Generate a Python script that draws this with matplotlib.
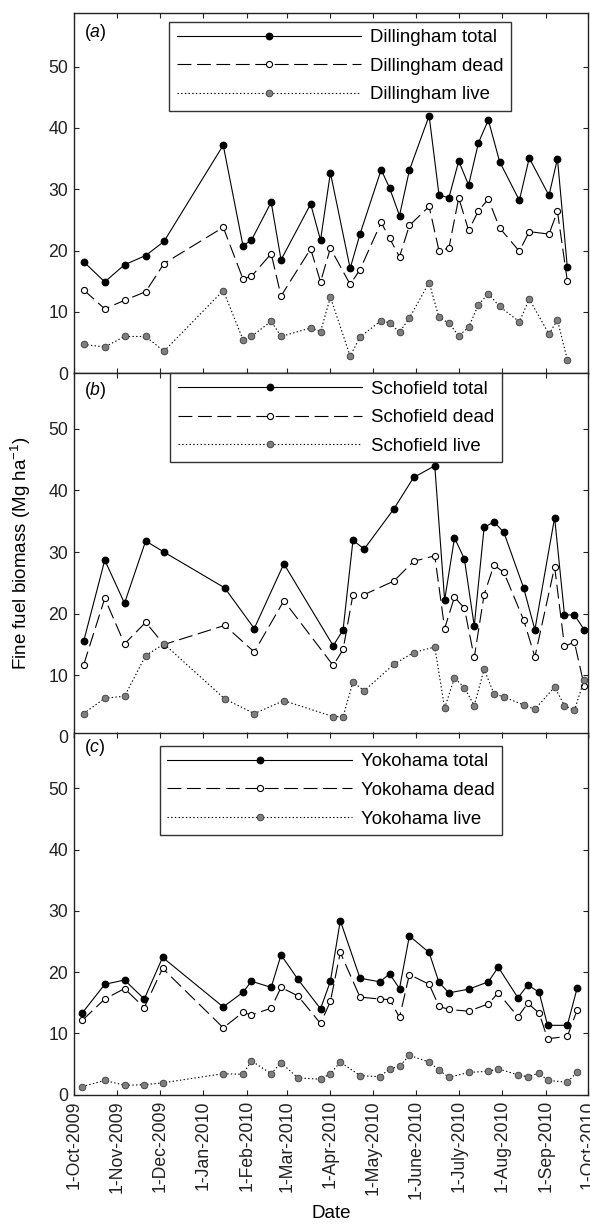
import numpy as np
import matplotlib
matplotlib.use('Agg')
import matplotlib.pyplot as plt

plt.rcParams['font.family'] = ['Liberation Sans', 'DejaVu Sans']
plt.rcParams['mathtext.fontset'] = 'custom'
plt.rcParams['mathtext.rm'] = 'Liberation Sans'
plt.rcParams['mathtext.it'] = 'Liberation Sans:italic'
plt.rcParams['lines.scale_dashes'] = False

# --- data ---
dil_dates = ['2009-10-08', '2009-10-23', '2009-11-06', '2009-11-21', '2009-12-04', '2010-01-15',
             '2010-01-29', '2010-02-04', '2010-02-18', '2010-02-25', '2010-03-18', '2010-03-25',
             '2010-04-01', '2010-04-15', '2010-04-22', '2010-05-07', '2010-05-13', '2010-05-20',
             '2010-05-27', '2010-06-10', '2010-06-17', '2010-06-24', '2010-07-01', '2010-07-08',
             '2010-07-15', '2010-07-22', '2010-07-30', '2010-08-13', '2010-08-20', '2010-09-03',
             '2010-09-09', '2010-09-16']
dil_total = [18.2, 14.9, 17.7, 19.2, 21.5, 37.2, 20.8, 21.7, 27.9, 18.5, 27.6, 21.7, 32.7, 17.1,
             22.7, 33.2, 30.2, 25.7, 33.1, 42.0, 29.1, 28.6, 34.6, 30.7, 37.6, 41.3, 34.5, 28.2,
             35.1, 29.0, 35.0, 17.3]
dil_dead = [13.6, 10.5, 11.9, 13.3, 17.9, 23.8, 15.4, 15.8, 19.5, 12.6, 20.3, 14.9, 20.4, 14.5,
            16.9, 24.6, 22.0, 19.0, 24.1, 27.2, 20.0, 20.4, 28.6, 23.3, 26.5, 28.4, 23.7, 19.9,
            23.1, 22.7, 26.4, 15.1]
dil_live = [4.7, 4.3, 6.0, 6.0, 3.6, 13.5, 5.5, 6.0, 8.5, 6.0, 7.4, 6.8, 12.4, 2.8, 5.9, 8.6,
            8.2, 6.7, 9.0, 14.8, 9.1, 8.2, 6.1, 7.5, 11.2, 13.0, 10.9, 8.4, 12.1, 6.4, 8.7, 2.2]

sch_dates = ['2009-10-08', '2009-10-23', '2009-11-06', '2009-11-21', '2009-12-04', '2010-01-16',
             '2010-02-06', '2010-02-27', '2010-04-03', '2010-04-10', '2010-04-17', '2010-04-25',
             '2010-05-16', '2010-05-30', '2010-06-14', '2010-06-21', '2010-06-28', '2010-07-05',
             '2010-07-12', '2010-07-19', '2010-07-26', '2010-08-02', '2010-08-16', '2010-08-24',
             '2010-09-07', '2010-09-14', '2010-09-21', '2010-09-28']
sch_total = [15.5, 28.7, 21.7, 31.8, 30.0, 24.2, 17.6, 28.1, 14.8, 17.4, 31.9, 30.5, 37.0, 42.1,
             44.0, 22.2, 32.3, 28.9, 18.0, 34.0, 34.9, 33.2, 24.2, 17.4, 35.6, 19.8, 19.8, 17.4]
sch_dead = [11.7, 22.5, 15.1, 18.6, 15.0, 18.1, 13.8, 22.1, 11.6, 14.2, 23.1, 23.1, 25.3, 28.5,
            29.4, 17.6, 22.7, 20.9, 12.9, 23.1, 27.9, 26.7, 19.0, 13.0, 27.6, 14.7, 15.4, 8.3]
sch_live = [3.8, 6.3, 6.6, 13.2, 15.1, 6.2, 3.8, 5.9, 3.3, 3.3, 8.9, 7.5, 11.8, 13.7, 14.6, 4.7,
            9.6, 8.0, 5.1, 11.0, 7.0, 6.5, 5.2, 4.5, 8.1, 5.1, 4.3, 9.3]

yok_dates = ['2009-10-07', '2009-10-23', '2009-11-06', '2009-11-20', '2009-12-03', '2010-01-15',
             '2010-01-29', '2010-02-04', '2010-02-18', '2010-02-25', '2010-03-09', '2010-03-25',
             '2010-04-01', '2010-04-08', '2010-04-22', '2010-05-06', '2010-05-13', '2010-05-20',
             '2010-05-27', '2010-06-10', '2010-06-17', '2010-06-24', '2010-07-08', '2010-07-22',
             '2010-07-29', '2010-08-12', '2010-08-19', '2010-08-27', '2010-09-02', '2010-09-16',
             '2010-09-23']
yok_total = [13.3, 18.0, 18.7, 15.6, 22.4, 14.3, 16.7, 18.5, 17.5, 22.8, 18.8, 14.0, 18.5, 28.4,
             19.0, 18.4, 19.7, 17.3, 25.9, 23.2, 18.3, 16.6, 17.2, 18.4, 20.8, 15.8, 17.9, 16.7,
             11.3, 11.3, 17.4]
yok_dead = [12.1, 15.6, 17.3, 14.2, 20.6, 10.9, 13.4, 13.0, 14.1, 17.5, 16.1, 11.6, 15.2, 23.2,
            15.9, 15.6, 15.5, 12.6, 19.6, 18.0, 14.4, 13.9, 13.6, 14.8, 16.6, 12.7, 14.9, 13.3,
            9.1, 9.5, 13.8]
yok_live = [1.3, 2.3, 1.5, 1.6, 1.9, 3.4, 3.3, 5.5, 3.4, 5.2, 2.7, 2.5, 3.4, 5.3, 3.1, 2.9, 4.2,
            4.6, 6.4, 5.3, 4.0, 2.8, 3.6, 3.8, 4.2, 3.2, 2.9, 3.5, 2.3, 2.0, 3.7]

sites = ['Dillingham', 'Schofield', 'Yokohama']
panel_tags = ['a', 'b', 'c']
tick_months = ['Oct', 'Nov', 'Dec', 'Jan', 'Feb', 'Mar', 'Apr', 'May', 'June', 'July', 'Aug', 'Sep', 'Oct']
tick_years = [2009, 2009, 2009, 2010, 2010, 2010, 2010, 2010, 2010, 2010, 2010, 2010, 2010]

panels = [
    (dil_dates, dil_total, dil_dead, dil_live),
    (sch_dates, sch_total, sch_dead, sch_live),
    (yok_dates, yok_total, yok_dead, yok_live),
]

fig = plt.figure(figsize=(5.9, 12.25), dpi=100)
left, width = 0.125, 0.8724
boxes = [(0.69527, 0.29437), (0.39837, 0.29739), (0.10653, 0.29486)]
ytops = [58.8, 59.1, 59.0]
leg_anchor = [(0.1856, 0.975), (0.1874, 0.999), (0.1676, 0.965)]
tag_y = [0.946, 0.95, 0.961]

tick_pos = [np.datetime64(f'{y}-{m:02d}-01') for y, m in
            zip(tick_years, [10, 11, 12, 1, 2, 3, 4, 5, 6, 7, 8, 9, 10])]
tick_lbl = [f'1-{m}-{y}' for m, y in zip(tick_months, tick_years)]

for i, (dates, total, dead, live) in enumerate(panels):
    ax = fig.add_axes([left, boxes[i][0], width, boxes[i][1]])
    d = np.array(dates, dtype='datetime64[D]')
    ax.plot(d, total, '-', color='black', lw=0.8, marker='o', ms=4.6,
            mfc='black', mec='black', label=f'{sites[i]} total')
    ax.plot(d, dead, color='black', lw=0.8, dashes=[10, 4], marker='o', ms=4.4,
            mfc='white', mec='black', mew=0.8, label=f'{sites[i]} dead')
    ax.plot(d, live, ':', color='black', lw=0.8, marker='o', ms=4.8,
            mfc='#7f7f7f', mec='#3a3a3a', mew=0.6, label=f'{sites[i]} live')

    ax.set_xlim(np.datetime64('2009-10-01'), np.datetime64('2010-10-01'))
    ax.set_ylim(0, ytops[i])
    ax.set_yticks([0, 10, 20, 30, 40, 50])
    ax.set_xticks(tick_pos)
    if i == 2:
        ax.set_xticklabels(tick_lbl, rotation=90)
        ax.set_xlabel('Date', fontsize=13.5, labelpad=4)
    else:
        ax.set_xticklabels([])
    ax.tick_params(direction='in', top=True, right=True, length=3.5, width=0.8,
                   labelsize=12.7, colors='#222222', pad=4)
    for s in ax.spines.values():
        s.set_linewidth(1.0)
        s.set_color('#222222')

    ax.text(0.019, tag_y[i], f'($\\it{{{panel_tags[i]}}}$)', transform=ax.transAxes,
            fontsize=12.7, va='center', ha='left')

    leg = ax.legend(loc='upper left', bbox_to_anchor=leg_anchor[i], borderaxespad=0,
                    fontsize=13.4, handlelength=9.9, handletextpad=0.5, labelspacing=0.62,
                    borderpad=0.4, fancybox=False, framealpha=1, edgecolor='#333333',
                    numpoints=1)
    leg.get_frame().set_linewidth(1.0)

fig.text(0.036, 0.548, 'Fine fuel biomass (Mg ha$^{-1}$)', rotation=90,
         ha='center', va='center', fontsize=13.5)

fig.savefig('out.png', dpi=100)
